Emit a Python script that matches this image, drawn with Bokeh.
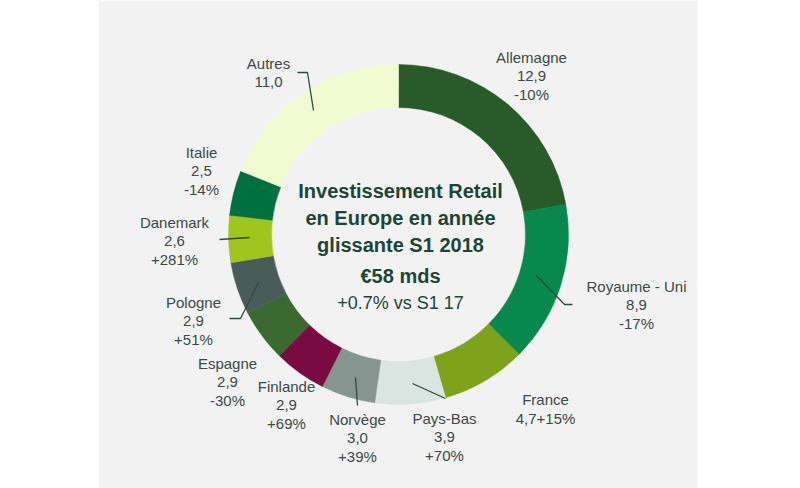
import math
from bokeh.plotting import figure
from bokeh.models import ColumnDataSource, Range1d
from bokeh.core.properties import value
from bokeh.embed import file_html
from bokeh.resources import INLINE

# ---- data ----
countries = ["Allemagne", "Royaume - Uni", "France", "Pays-Bas", "Norvège", "Finlande",
             "Espagne", "Pologne", "Danemark", "Italie", "Autres"]
values = [12.9, 8.9, 4.7, 3.9, 3.0, 2.9, 2.9, 2.9, 2.6, 2.5, 11.0]
changes = ["-10%", "-17%", "+15%", "+70%", "+39%", "+69%", "-30%", "+51%", "+281%", "-14%", ""]
colors = ["#285a2a", "#07894e", "#7ea21a", "#dae4e0", "#84968f", "#7a0a42",
          "#3a6a30", "#4a5c58", "#a0c61c", "#007040", "#f0fbd0"]
title_lines = ["Investissement Retail", "en Europe en année", "glissante S1 2018"]
growth_text = "+0.7% vs S1 17"

# ---- layout (image pixel coords, y downwards) ----
W, H = 800, 488
CX, CY = 398, 234
R_OUT, R_IN = 170, 127
label_pos = {
    "Allemagne": (531, 57), "Royaume - Uni": (636, 286), "France": (545, 399),
    "Pays-Bas": (444, 418), "Norvège": (357, 419), "Finlande": (286, 386),
    "Espagne": (227, 363), "Pologne": (193, 302), "Danemark": (174, 222),
    "Italie": (201, 152), "Autres": (268, 63),
}
leaders = {
    "Autres": [(297, 72), (307, 72), (313, 110)],
    "Danemark": [(219, 239), (249, 237)],
    "Pologne": [(229, 318), (240, 318), (258, 282)],
    "Norvège": [(357, 405), (355, 377)],
    "Pays-Bas": [(445, 398), (412, 383)],
    "Royaume - Uni": [(572, 304), (564, 304), (536, 275)],
}
LS = 18.5
FONT = "Liberation Sans"
LABEL_COLOR = "#3d4946"
TITLE_COLOR = "#1d4535"


def fy(y):
    return H - y


p = figure(width=W, height=H, x_range=Range1d(0, W), y_range=Range1d(0, H),
           output_backend="svg", toolbar_location=None, min_border=0)
p.axis.visible = False
p.grid.visible = False
p.outline_line_color = None
p.background_fill_color = "white"
p.border_fill_color = "white"

# panel background
p.quad(left=[98], right=[697], bottom=[0], top=[H], fill_color="#f2f2f2", line_color=None)

# donut wedges (clockwise from top)
total = sum(values)
starts, ends = [], []
cum = 0.0
for v in values:
    t1 = cum / total * 2 * math.pi
    cum += v
    t2 = cum / total * 2 * math.pi
    starts.append(math.pi / 2 - t2)
    ends.append(math.pi / 2 - t1)
src = ColumnDataSource(dict(start=starts, end=ends, color=colors, name=countries))
p.annular_wedge(x=CX, y=fy(CY), inner_radius=R_IN, outer_radius=R_OUT,
                start_angle="start", end_angle="end", direction="anticlock",
                fill_color="color", line_color="color", line_width=0.5, source=src)

# leader lines
for name, pts in leaders.items():
    p.line([q[0] for q in pts], [fy(q[1]) for q in pts], line_color="#2f4a40", line_width=1.3)

# labels
tx, ty, tt = [], [], []
for name, v, ch in zip(countries, values, changes):
    x0, y0 = label_pos[name]
    vs = f"{v:.1f}".replace(".", ",")
    if name == "France":
        lines = [name, vs + ch]
    elif ch:
        lines = [name, vs, ch]
    else:
        lines = [name, vs]
    for i, ln in enumerate(lines):
        tx.append(x0)
        ty.append(fy(y0 + i * LS))
        tt.append(ln)
p.text(x=tx, y=ty, text=tt, text_align="center", text_baseline="middle",
       text_font=value(FONT), text_font_size="15px", text_color=LABEL_COLOR)

# center text
cy_lines = [190, 217, 244]
p.text(x=[CX + 2] * 3, y=[fy(y) for y in cy_lines], text=title_lines,
       text_align="center", text_baseline="middle", text_font=value(FONT),
       text_font_size="20px", text_font_style="bold", text_color=TITLE_COLOR)
p.text(x=[CX + 2], y=[fy(275)], text=[f"€{round(total)} mds"],
       text_align="center", text_baseline="middle", text_font=value(FONT),
       text_font_size="20px", text_font_style="bold", text_color=TITLE_COLOR)
p.text(x=[CX + 2], y=[fy(302)], text=[growth_text],
       text_align="center", text_baseline="middle", text_font=value(FONT),
       text_font_size="18px", text_color=TITLE_COLOR)

open("out.html", "w").write(file_html(p, INLINE))
